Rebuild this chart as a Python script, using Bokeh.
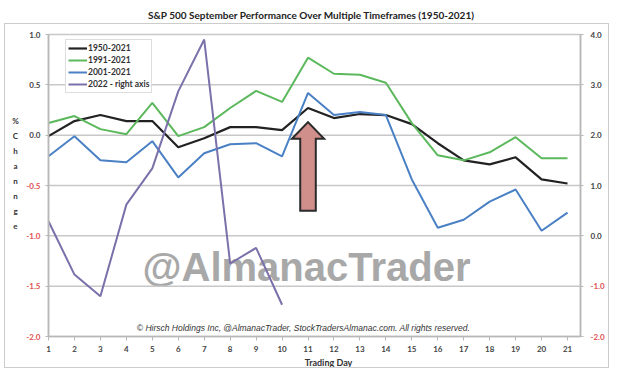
from bokeh.plotting import figure
from bokeh.models import (Range1d, LinearAxis, Label, Legend, LegendItem,
                          FixedTicker, InlineStyleSheet, PrintfTickFormatter)
from bokeh.embed import file_html
from bokeh.resources import INLINE

# ---------------- data ----------------
days = list(range(1, 22))
s1950 = [-0.01, 0.14, 0.20, 0.14, 0.14, -0.12, -0.03, 0.08, 0.08, 0.05, 0.27,
         0.17, 0.21, 0.20, 0.11, -0.08, -0.25, -0.29, -0.22, -0.44, -0.48]
s1991 = [0.12, 0.19, 0.06, 0.01, 0.32, -0.01, 0.08, 0.27, 0.44, 0.33, 0.77,
         0.61, 0.60, 0.52, 0.12, -0.20, -0.25, -0.17, -0.02, -0.23, -0.23]
s2001 = [-0.21, -0.01, -0.25, -0.27, -0.06, -0.42, -0.18, -0.09, -0.08, -0.21, 0.42,
         0.20, 0.23, 0.20, -0.44, -0.92, -0.84, -0.66, -0.54, -0.95, -0.77]
days_2022 = list(range(1, 11))
s2022 = [0.29, -0.77, -1.20, 0.62, 1.34, 2.87, 3.90, -0.55, -0.24, -1.37]

left_ticks_pos = [0.0, 0.5, 1.0]
left_ticks_neg = [-2.0, -1.5, -1.0, -0.5]
right_ticks_pos = [0.0, 1.0, 2.0, 3.0, 4.0]
right_ticks_neg = [-2.0, -1.0]
series_names = ["1950-2021", "1991-2021", "2001-2021", "2022 - right axis"]
series_colors = ["#222222", "#5cb85c", "#4a80c4", "#7a70aa"]

# arrow annotation (day, tip value, head base, bottom, half widths in days)
arrow_day = 11
arrow_tip, arrow_head_base, arrow_bottom = 0.13, -0.035, -0.75
arrow_head_half, arrow_shaft_half = 0.62, 0.30

title_text = "S&P 500 September Performance Over Multiple Timeframes (1950-2021)"
ylabel_letters = ["%", "C", "h", "a", "n", "n", "g", "e"]
xlabel_text = "Trading Day"
copyright_text = ("\u00a9 Hirsch Holdings Inc, @AlmanacTrader, "
                  "StockTradersAlmanac.com. All rights reserved.")
watermark_text = "@AlmanacTrader"

# ---------------- layout (page pixels) ----------------
W, H = 625, 377
PL, PR, PT, PB = 48, 580, 34, 336      # plot area edges
X0, X1 = 1, 21.5                        # x data at plot area edges
L0, L1 = -2.0, 1.0                      # left axis data at bottom / top
R0, R1 = -2.0, 4.0                      # right axis data at bottom / top

xs = (PR - PL) / (X1 - X0)
ys = (PB - PT) / (L1 - L0)
rs = (PB - PT) / (R1 - R0)
x_range = Range1d(X0 - PL / xs, X1 + (W - PR) / xs)
y_range = Range1d(L0 - (H - PB) / ys, L1 + PT / ys)
r_range = Range1d(R0 - (H - PB) / rs, R1 + PT / rs)


def sy(Y):
    return H - Y


p = figure(width=W, height=H, x_range=x_range, y_range=y_range,
           output_backend="svg", toolbar_location=None,
           min_border=0, min_border_left=0, min_border_right=0,
           min_border_top=0, min_border_bottom=0,
           x_axis_location=None, y_axis_location=None)
p.title.visible = False
p.extra_y_ranges = {"right": r_range}
p.outline_line_color = None
p.background_fill_color = "white"
p.border_fill_color = "white"
p.grid.visible = False

# outer frame border via css
p.stylesheets = [InlineStyleSheet(css="""
:host { position: relative; }
:host::after { content: ''; position: absolute; left: 4px; top: 23px;
  width: 605px; height: 345px; border: 1.5px solid #cccccc;
  pointer-events: none; box-sizing: border-box; }
""")]

# horizontal gridlines
gticks = left_ticks_neg + left_ticks_pos
p.segment(x0=[X0] * len(gticks), x1=[X1] * len(gticks), y0=gticks, y1=gticks,
          line_color="#c8c8c8", line_width=1.5)


def style_axis(ax, color, standoff):
    ax.axis_line_color = "#b8b8b8"
    ax.axis_line_width = 1.5
    ax.major_tick_line_color = "#b8b8b8"
    ax.major_tick_out = 3
    ax.major_tick_in = 0
    ax.minor_tick_line_color = None
    ax.major_label_text_font = "Lato"
    ax.major_label_text_font_style = "bold"
    ax.major_label_text_font_size = "8px"
    ax.major_label_text_color = color
    ax.major_label_standoff = standoff


# bottom axis
bax = LinearAxis(ticker=FixedTicker(ticks=days), fixed_location=L0, bounds=(X0, X1))
style_axis(bax, "#444444", 5)
bax.major_tick_out = 4
p.add_layout(bax, "below")

# left axes: black positives, red negatives at the same place
for ticks, col in ((left_ticks_pos, "#444444"), (left_ticks_neg, "#e05050")):
    ax = LinearAxis(ticker=FixedTicker(ticks=ticks), fixed_location=X0, bounds=(L0, L1),
                    formatter=PrintfTickFormatter(format="%.1f"))
    style_axis(ax, col, 5)
    p.add_layout(ax, "left")

for ticks, col in ((right_ticks_pos, "#444444"), (right_ticks_neg, "#e05050")):
    ax = LinearAxis(y_range_name="right", ticker=FixedTicker(ticks=ticks),
                    fixed_location=X1, bounds=(R0, R1),
                    formatter=PrintfTickFormatter(format="%.1f"))
    style_axis(ax, col, 7)
    p.add_layout(ax, "right")

# watermark + copyright
p.add_layout(Label(x=306, y=sy(266), x_units="screen", y_units="screen",
                   text=watermark_text, text_align="center", text_baseline="middle",
                   text_font="Liberation Sans", text_font_style="bold",
                   text_font_size="40px", text_color="#a8a8a8", level="underlay"))
p.add_layout(Label(x=303, y=sy(327), x_units="screen", y_units="screen",
                   text=copyright_text, text_align="center", text_baseline="middle",
                   text_font="Liberation Sans", text_font_style="italic",
                   text_font_size="8.5px", text_color="#333333"))

# arrow
ax_ = [arrow_day - arrow_shaft_half, arrow_day - arrow_shaft_half, arrow_day - arrow_head_half,
       arrow_day, arrow_day + arrow_head_half, arrow_day + arrow_shaft_half,
       arrow_day + arrow_shaft_half]
ay_ = [arrow_bottom, arrow_head_base, arrow_head_base, arrow_tip, arrow_head_base,
       arrow_head_base, arrow_bottom]
p.patch(ax_, ay_, fill_color="#d08f8b", line_color="#2a2a2a", line_width=2,
        line_join="miter")

# lines
r1 = p.line(days, s1950, line_color=series_colors[0], line_width=2.2)
r2 = p.line(days, s1991, line_color=series_colors[1], line_width=2.0)
r3 = p.line(days, s2001, line_color=series_colors[2], line_width=2.0)
r4 = p.line(days_2022, s2022, line_color=series_colors[3], line_width=2.0,
            y_range_name="right")

legend = Legend(items=[LegendItem(label=n, renderers=[r]) for n, r in
                       zip(series_names, [r1, r2, r3, r4])],
                location=(65, sy(93)), orientation="vertical")
legend.label_text_font = "Lato"
legend.label_text_font_style = "bold"
legend.label_text_font_size = "8.5px"
legend.label_text_color = "#333333"
legend.glyph_width = 19
legend.glyph_height = 12
legend.label_height = 12
legend.label_standoff = 1
legend.spacing = 0
legend.padding = 2
legend.margin = 0
legend.border_line_color = "#bbbbbb"
legend.background_fill_alpha = 1
p.add_layout(legend)

# y label, stacked letters
for i, ch in enumerate(ylabel_letters):
    p.add_layout(Label(x=15, y=sy(120 + i * 15), x_units="screen", y_units="screen",
                       text=ch, text_align="center", text_baseline="middle",
                       text_font="Lato", text_font_style="bold", text_font_size="8px",
                       text_color="#333333"))

# x label
p.add_layout(Label(x=328, y=sy(362), x_units="screen", y_units="screen",
                   text=xlabel_text, text_align="center", text_baseline="middle",
                   text_font="Lato", text_font_style="bold", text_font_size="9px",
                   text_color="#333333"))

# title
p.add_layout(Label(x=311, y=sy(14), x_units="screen", y_units="screen",
                   text=title_text, text_align="center", text_baseline="middle",
                   text_font="Lato", text_font_style="bold", text_font_size="10px",
                   text_color="#222222"))

open("out.html", "w").write(file_html(p, INLINE))
